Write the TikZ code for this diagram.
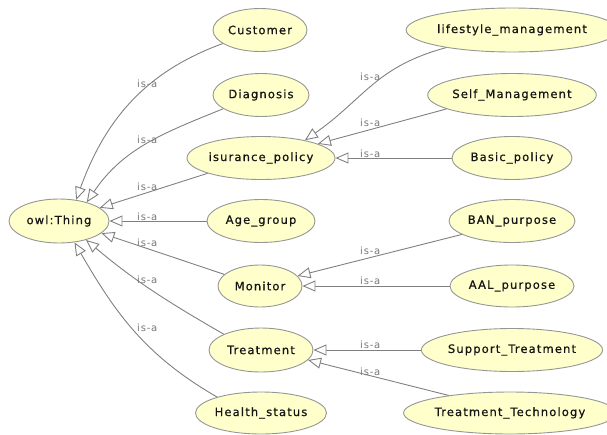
\documentclass[tikz,border=0pt]{standalone}
\usepackage{fontspec}
\setmainfont{DejaVu Sans}
\usetikzlibrary{shapes.geometric,arrows.meta}
\definecolor{nodefill}{RGB}{255,255,204}
\definecolor{nodeline}{RGB}{150,150,150}
\definecolor{edgecol}{RGB}{128,128,128}
\definecolor{labcol}{RGB}{120,120,120}
\definecolor{txtcol}{RGB}{20,20,20}
\begin{document}
\begin{tikzpicture}[x=1pt,y=-1pt,
  cls/.style={ellipse,draw=nodeline,fill=nodefill,line width=0.9pt,inner sep=0pt,
    text=txtcol,font=\fontsize{11.5}{12}\selectfont\addfontfeature{LetterSpace=10,FakeBold=0.6}},
  isa/.style={draw=edgecol,line width=0.9pt,-{Triangle[open,length=13pt,width=11pt,fill=white]}},
  lab/.style={anchor=west,inner sep=0pt,text=labcol,font=\fontsize{10}{10}\selectfont\addfontfeature{LetterSpace=8}}]
\useasboundingbox (0,0) rectangle (607,434);
% nodes
\node[cls,minimum width=100pt,minimum height=44pt] (thing) at (59,221) {owl:Thing};
\node[cls,minimum width=94pt,minimum height=43pt] (cust) at (260,30) {Customer};
\node[cls,minimum width=96pt,minimum height=43pt] (diag) at (261,95) {Diagnosis};
\node[cls,minimum width=142pt,minimum height=43pt] (isur) at (261,158) {isurance\_policy};
\node[cls,minimum width=108pt,minimum height=43pt] (age) at (261,221) {Age\_group};
\node[cls,minimum width=84pt,minimum height=42pt] (mon) at (260,286) {Monitor};
\node[cls,minimum width=104pt,minimum height=44pt] (treat) at (261,350) {Treatment};
\node[cls,minimum width=124pt,minimum height=42pt] (health) at (261,413) {Health\_status};
\node[cls,minimum width=188pt,minimum height=44pt] (life) at (512,30) {lifestyle\_management};
\node[cls,minimum width=164pt,minimum height=43pt] (self) at (512,95) {Self\_Management};
\node[cls,minimum width=120pt,minimum height=43pt] (basic) at (512,158) {Basic\_policy};
\node[cls,minimum width=126pt,minimum height=43pt] (ban) at (512,221) {BAN\_purpose};
\node[cls,minimum width=124pt,minimum height=42pt] (aal) at (512,286) {AAL\_purpose};
\node[cls,minimum width=168pt,minimum height=43pt] (sup) at (512,350) {Support\_Treatment};
\node[cls,minimum width=194pt,minimum height=42pt] (tt) at (510,413) {Treatment\_Technology};
% edges to owl:Thing
\draw[isa] (cust.200) to[out=200,in=70] (thing.51);
\draw[isa] (diag.200) to[out=202,in=56] (thing.34);
\draw[isa] (isur.196) -- (thing.18);
\draw[isa] (age.west) -- (thing.east);
\draw[isa] (mon.162) -- (thing.-16);
\draw[isa] (treat.157) to[out=150,in=-40] (thing.-35);
\draw[isa] (health.160) to[out=150,in=-60] (thing.-54);
% edges on the right
\draw[isa] (life.195) to[out=195,in=35,looseness=1.1] (isur.22);
\draw[isa] (self.192) -- (isur.14);
\draw[isa] (basic.west) -- (isur.east);
\draw[isa] (ban.195) -- (mon.15);
\draw[isa] (aal.west) -- (mon.east);
\draw[isa] (sup.west) -- (treat.east);
\draw[isa] (tt.164) -- (treat.-12);
% labels
\node[lab] (l1) at (137,84) {is-a};
\node[lab] (l2) at (137,140) {is-a};
\node[lab] (l3) at (137,187) {is-a};
\node[lab] (l4) at (137,217) {is-a};
\node[lab] (l5) at (137,243) {is-a};
\node[lab] (l6) at (137,280) {is-a};
\node[lab] (l7) at (137,328) {is-a};
\node[lab] (r1) at (360,77) {is-a};
\node[lab] (r2) at (360,123) {is-a};
\node[lab] (r3) at (360,154) {is-a};
\node[lab] (r4) at (360,251) {is-a};
\node[lab] (r5) at (360,281) {is-a};
\node[lab] (r6) at (360,345) {is-a};
\node[lab] (r7) at (360,372) {is-a};
\end{tikzpicture}
\end{document}
